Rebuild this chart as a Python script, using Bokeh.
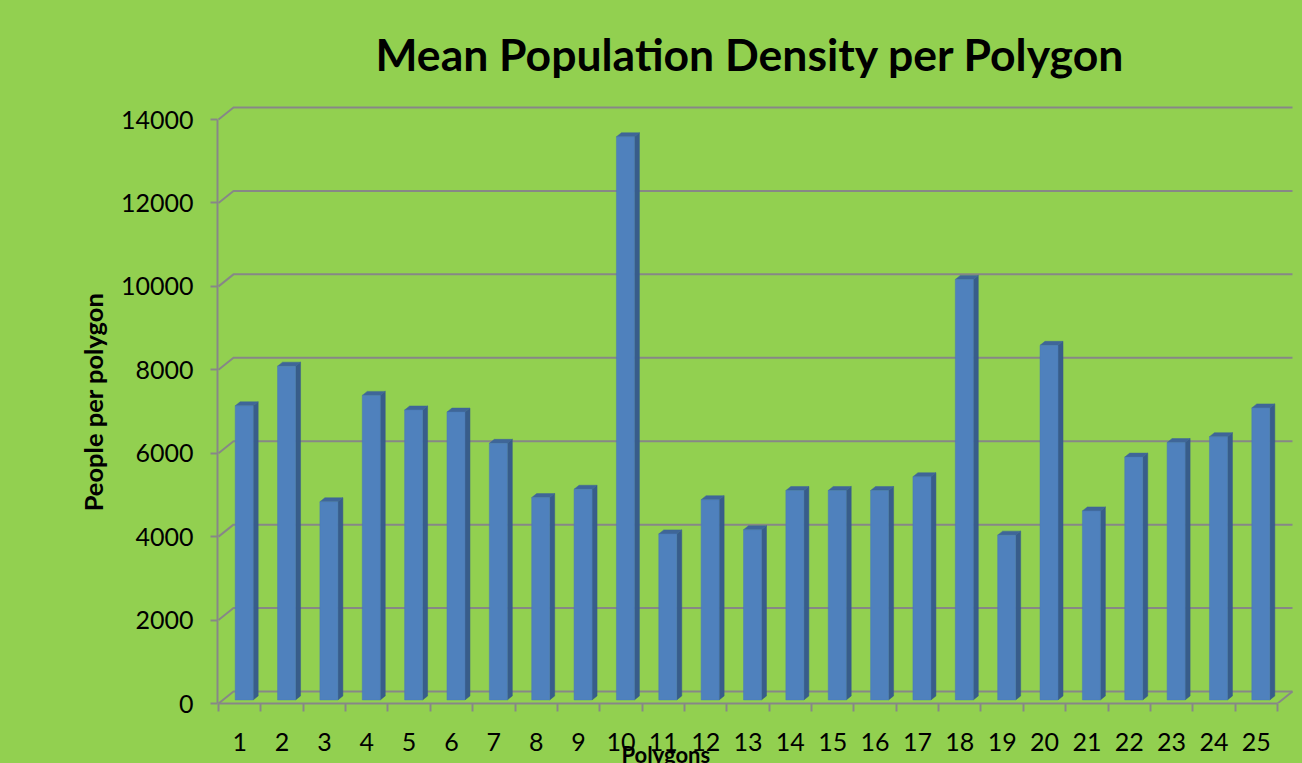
from bokeh.plotting import figure
from bokeh.models import Range1d, FixedTicker, ColumnDataSource, Title
from bokeh.embed import file_html
from bokeh.resources import INLINE

# ---------------- data ----------------
polygons = list(range(1, 26))
density = [7050, 8000, 4750, 7300, 6950, 6900, 6150, 4850, 5050, 13500,
           3980, 4800, 4080, 5020, 5020, 5020, 5350, 10080, 3950, 8500,
           4530, 5820, 6170, 6310, 7000]
y_ticks = [0, 2000, 4000, 6000, 8000, 10000, 12000, 14000]
title_text = "Mean Population Density per Polygon"
x_title = "Polygons"
y_title = "People per polygon"

# ---------------- geometry (pixels) ----------------
W, H = 1302, 763
FRAME_L, FRAME_R = 217, 1302          # canvas px
FRAME_T, FRAME_B = 100, 703
CAT_PX = 42.36                         # px per category
PX_PER_UNIT = 584.0 / 14000.0          # px per people unit
DEPTH_X, DEPTH_Y = 15.0, 12.0          # 3D wall depth in px
BAR_FRONT = 0.3                        # bar front plane depth fraction
BAR_DEPTH = 1.0 / 3.0                  # bar depth fraction
BAR_W_PX = 18.0

x_start = 0.5 - 1.0 / CAT_PX
x_end = x_start + (FRAME_R - FRAME_L) / CAT_PX
y_start = 0.0
y_end = (FRAME_B - FRAME_T) / PX_PER_UNIT

DX = DEPTH_X / CAT_PX
DY = DEPTH_Y / PX_PER_UNIT
n = len(polygons)
x_lo, x_hi = 0.5, n + 0.5

p = figure(width=W, height=H, output_backend="svg", toolbar_location=None,
           x_range=Range1d(x_start, x_end), y_range=Range1d(y_start, y_end),
           min_border_left=FRAME_L, min_border_right=W - FRAME_R,
           min_border_top=FRAME_T, min_border_bottom=H - FRAME_B,
           background_fill_color="#92d050", border_fill_color="#92d050",
           outline_line_color=None)
p.xgrid.visible = False
p.ygrid.visible = False

GRAY = "#878787"

# back-wall gridlines with their 3D diagonal at the left
gx = [[x_lo, x_lo + DX, x_hi + DX] for _ in y_ticks]
gy = [[v, v + DY, v + DY] for v in y_ticks]
p.multi_line(gx, gy, line_color=GRAY, line_width=2)
# right floor diagonal
p.line([x_hi, x_hi + DX], [0, DY], line_color=GRAY, line_width=2)

# bars
fdx, fdy = BAR_FRONT * DX, BAR_FRONT * DY
bdx, bdy = BAR_DEPTH * DX, BAR_DEPTH * DY
hw = BAR_W_PX / CAT_PX / 2
left = [c + fdx - hw for c in polygons]
right = [c + fdx + hw for c in polygons]
bottom = [fdy] * n
top = [v + fdy for v in density]

side_xs = [[r, r + bdx, r + bdx, r] for r in right]
side_ys = [[fdy, fdy + bdy, t + bdy, t] for t in top]
top_xs = [[l, l + bdx, r + bdx, r] for l, r in zip(left, right)]
top_ys = [[t, t + bdy, t + bdy, t] for t in top]

p.patches(side_xs, side_ys, fill_color="#385d8a", line_color="#385d8a", line_width=0.5)
p.patches(top_xs, top_ys, fill_color="#3f6698", line_color="#3f6698", line_width=0.5)
src = ColumnDataSource(dict(left=left, right=right, bottom=bottom, top=top))
p.quad(left="left", right="right", bottom="bottom", top="top", source=src,
       fill_color="#4f81bd", line_color="#4a7bb6", line_width=0.5)

# y axis
ya = p.yaxis[0]
ya.bounds = (0, y_ticks[-1])
ya.ticker = FixedTicker(ticks=y_ticks)
ya.axis_line_color = GRAY
ya.axis_line_width = 2
ya.major_tick_line_color = GRAY
ya.major_tick_line_width = 2
ya.major_tick_out = 7
ya.major_tick_in = 0
ya.minor_tick_line_color = None
ya.major_label_text_font = "Lato"
ya.major_label_text_font_size = "25px"
ya.major_label_text_color = "black"
ya.major_label_standoff = 17
ya.axis_label = y_title
ya.axis_label_text_font = "Lato"
ya.axis_label_text_font_style = "bold"
ya.axis_label_text_font_size = "25.5px"
ya.axis_label_text_color = "black"
ya.axis_label_standoff = 10

# x axis (front edge, category labels)
xa = p.xaxis[0]
xa.bounds = (x_lo, x_hi)
xa.ticker = FixedTicker(ticks=polygons, minor_ticks=[c - 0.5 for c in polygons] + [x_hi])
xa.axis_line_color = GRAY
xa.axis_line_width = 2
xa.major_tick_line_color = None
xa.major_tick_out = 0
xa.major_tick_in = 0
xa.minor_tick_line_color = GRAY
xa.minor_tick_line_width = 2
xa.minor_tick_out = 8
xa.minor_tick_in = 0
xa.major_label_text_font = "Lato"
xa.major_label_text_font_size = "25px"
xa.major_label_text_color = "black"
xa.major_label_standoff = 21

# x title: a title in the bottom panel, placed off-centre as in the original
p.add_layout(Title(text=x_title, align="left", offset=404, standoff=-29,
                   text_font="Lato", text_font_style="bold", text_font_size="22px",
                   text_color="black"), "below")

p.title = Title(text=title_text, align="left", text_font="Lato",
                text_font_style="bold", text_font_size="44.5px", text_color="black",
                standoff=42, offset=158)

html = file_html(p, INLINE)
html = html.replace("<head>", "<head><style>html,body{background:#92d050;}</style>", 1)
open("out.html", "w").write(html)
